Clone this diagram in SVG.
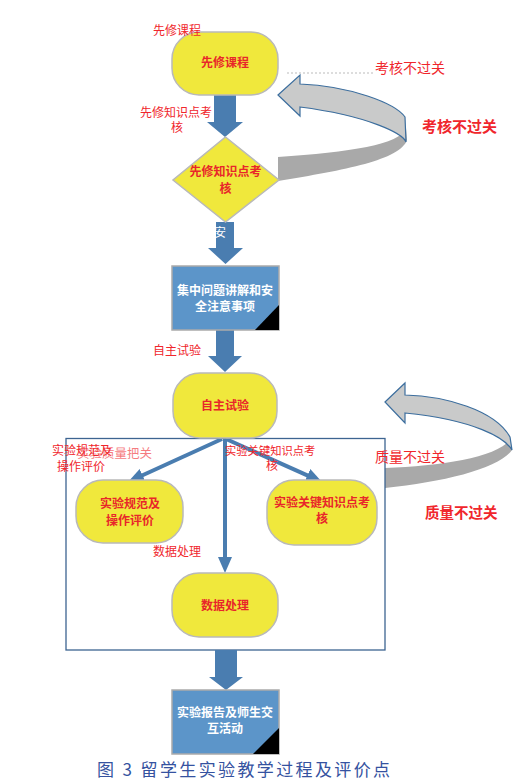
<svg xmlns="http://www.w3.org/2000/svg" width="519" height="783" viewBox="0 0 519 783">
<style>
.lbl{font-family:"Noto Sans CJK SC","Noto Sans",sans-serif;font-size:12px;fill:#f0262c}
.nt{font-family:"Noto Sans CJK SC","Noto Sans",sans-serif;font-size:12px;font-weight:bold;fill:#e8262a;text-anchor:middle}
.bt{font-family:"Noto Sans CJK SC","Noto Sans",sans-serif;font-size:12px;font-weight:bold;fill:#ffffff;text-anchor:middle}
.yel{fill:#f0e83c;stroke:#b9b9b9;stroke-width:1.5}
.blu{fill:#5c95c9;stroke:#ababab;stroke-width:1.5}
.blk{fill:#4a7db0}
.ln{stroke:#4a7db0;stroke-width:4;fill:none}
.band{fill:#c9caca;stroke:#3c6e9e;stroke-width:1.2}
.dark{fill:#a9a9a9}
</style>
<defs>
<marker id="ah" markerUnits="userSpaceOnUse" markerWidth="16" markerHeight="16" viewBox="0 0 16 16" refX="6" refY="8" orient="auto">
<path d="M0,1 L16,8 L0,15 Z" fill="#4a7db0"/>
</marker>
</defs>
<rect width="519" height="783" fill="#ffffff"/>

<!-- feedback arrows -->
<g id="loop1">
<path class="dark" d="M406,128 C400,145 350,152 278,157 L278,181 C345,170 400,160 407,140 Z"/>
<path class="band" d="M278,95 L300,75 L300,84 C350,86 395,103 405,117 L406,142 C403,134 370,116 300,107 L300,116 Z"/>
</g>
<g id="loop2">
<path class="dark" d="M510,440 C495,458 440,466 385,468 L385,488 C445,482 500,468 512,450 Z"/>
<path class="band" d="M385,402 L405,383 L405,395 C445,396 495,410 510,437 L512,450 C505,438 475,420 405,413 L405,423 Z"/>
</g>

<line x1="287" y1="73" x2="373" y2="73" stroke="#bbbbbb" stroke-width="1" stroke-dasharray="2,2"/>

<!-- outer frame -->
<g id="frame">
<rect x="66" y="438.5" width="319" height="211.5" fill="none" stroke="#3d6491" stroke-width="1.3"/>
</g>

<!-- connectors -->
<g id="connectors">
<polygon class="blk" points="214,95 236,95 236,122 243,122 225,137 207,122 214,122"/>
<polygon class="blk" points="216,222 234,222 234,248 243,248 225.5,264 208,248 216,248"/>
<polygon class="blk" points="216,330 234,330 234,356 242,356 225,372 208,356 216,356"/>
<polygon class="blk" points="215,650 237,650 237,677 243,677 226,690 209,677 215,677"/>
<line class="ln" x1="222" y1="439" x2="137.1" y2="477.8" marker-end="url(#ah)"/>
<line class="ln" x1="226" y1="439" x2="312.9" y2="477.9" marker-end="url(#ah)"/>
<line class="ln" x1="225" y1="439" x2="225" y2="563" marker-end="url(#ah)"/>
</g>

<!-- nodes -->
<g id="n1">
<rect class="yel" x="172" y="32" width="106" height="63" rx="27"/>
<text class="nt" x="225" y="67">先修课程</text>
</g>
<g id="n2">
<polygon points="225.5,137 279,180 225.5,222 173,180" fill="#f0e83c" stroke="#b9b9b9" stroke-width="1.5"/>
<text class="nt" x="225.5" y="176">先修知识点考</text>
<text class="nt" x="225.5" y="192.5">核</text>
</g>
<g id="n3">
<rect class="blu" x="172" y="266" width="107" height="64"/>
<polygon points="255,330 279,330 279,305" fill="#000000"/>
<text class="bt" x="225" y="295">集中问题讲解和安</text>
<text class="bt" x="225" y="311">全注意事项</text>
</g>
<g id="n4">
<rect class="yel" x="173" y="373" width="104" height="65" rx="27"/>
<text class="nt" x="225" y="410">自主试验</text>
</g>
<g id="n5">
<rect class="yel" x="76" y="480" width="107" height="63" rx="27"/>
<text class="nt" x="130" y="507.5">实验规范及</text>
<text class="nt" x="130" y="524.5">操作评价</text>
</g>
<g id="n6">
<rect class="yel" x="267" y="480" width="110" height="65" rx="27"/>
<text class="nt" x="322" y="507">实验关键知识点考</text>
<text class="nt" x="322" y="523">核</text>
</g>
<g id="n7">
<rect class="yel" x="172" y="573" width="106" height="64" rx="27"/>
<text class="nt" x="225" y="609.5">数据处理</text>
</g>
<g id="n8">
<rect class="blu" x="172" y="690" width="107" height="64"/>
<polygon points="253,754 279,754 279,728" fill="#000000"/>
<text class="bt" x="225" y="717">实验报告及师生交</text>
<text class="bt" x="225" y="733">互活动</text>
</g>

<!-- labels -->
<g id="labels">
<text class="lbl" x="153" y="34.5">先修课程</text>
<text class="lbl" x="140" y="116.5">先修知识点考</text>
<text class="lbl" x="171" y="132">核</text>
<text class="lbl" x="214" y="237" style="fill:#ffffff">安</text>
<text class="lbl" x="153" y="354.5">自主试验</text>
<text class="lbl" x="77" y="458" style="font-size:12.5px;opacity:0.6">实验质量把关</text>
<text class="lbl" x="52" y="455">实验规范及</text>
<text class="lbl" x="57" y="470.5">操作评价</text>
<text class="lbl" x="225" y="454.5" style="font-size:11.3px">实验关键知识点考</text>
<text class="lbl" x="266" y="469.5">核</text>
<text class="lbl" x="153" y="556">数据处理</text>
<text class="lbl" x="375" y="73" style="font-size:14px">考核不过关</text>
<text class="lbl" x="422" y="132" style="font-size:15px;font-weight:bold">考核不过关</text>
<text class="lbl" x="375" y="462" style="font-size:14px">质量不过关</text>
<text class="lbl" x="425" y="518" style="font-size:14.5px;font-weight:bold">质量不过关</text>
<text x="97" y="776" textLength="293" lengthAdjust="spacing" style="font-family:'Noto Sans CJK SC','Noto Sans',sans-serif;font-size:17px;fill:#3552a0">图 3 留学生实验教学过程及评价点</text>
</g>
</svg>
